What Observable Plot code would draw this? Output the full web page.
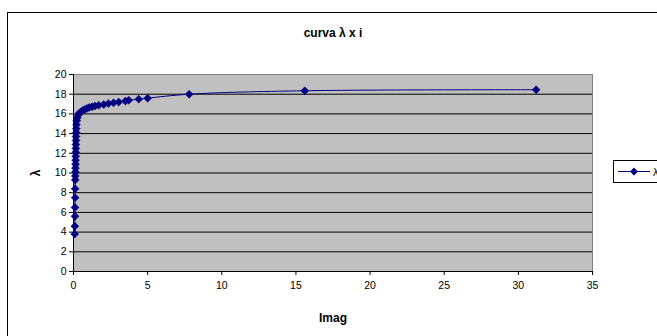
<!DOCTYPE html>
<html><head><meta charset="utf-8">
<script src="https://cdn.jsdelivr.net/npm/d3@7"></script>
<script src="https://cdn.jsdelivr.net/npm/@observablehq/plot@0.6"></script>
<style>
html,body{margin:0;padding:0;background:#fff;overflow:hidden;width:657px;height:336px;font-family:"Liberation Sans",Arial,sans-serif;}
#wrap{position:relative;width:657px;height:336px;}
#frame{position:absolute;left:7px;top:12px;width:700px;height:400px;border:1.5px solid #000;box-sizing:border-box;}
#chart{position:absolute;left:0;top:0;}
#legend{position:absolute;left:613px;top:160px;width:80px;height:23px;border:1px solid #000;background:#fff;box-sizing:border-box;}
</style></head>
<body><div id="wrap"><div id="frame"></div><div id="chart"></div><div id="legend"></div></div>
<script>
const title = "curva λ x i";
const xLabel = "Imag";
const yLabel = "λ";
const seriesName = "λ";
const imag = [0.08,0.09,0.10,0.10,0.11,0.11,0.12,0.12,0.13,0.13,0.14,0.14,0.15,0.15,0.16,0.16,0.17,0.17,0.18,0.19,0.20,0.22,0.26,0.32,0.40,0.50,0.62,0.75,0.90,1.05,1.25,1.45,1.70,2.04,2.35,2.70,3.05,3.50,3.73,4.40,5.00,7.80,15.60,31.20];
const lambda = [3.8,4.6,5.6,6.5,7.5,8.4,9.3,9.7,10.1,10.5,10.9,11.3,11.7,12.1,12.5,12.9,13.3,13.7,14.1,14.5,14.9,15.3,15.6,15.9,16.1,16.2,16.35,16.45,16.55,16.65,16.72,16.8,16.88,16.95,17.05,17.12,17.2,17.3,17.38,17.5,17.6,18.0,18.35,18.45];
const xTicks = [0,5,10,15,20,25,30,35];
const yTicks = [0,2,4,6,8,10,12,14,16,18,20];
const gridY = [2,4,6,8,10,12,14,16,18];

const data = imag.map((x,i)=>({x, y: lambda[i]}));
const navy = "#000080";

const chart = Plot.plot({
  width: 657, height: 336,
  marginLeft: 73, marginRight: 65, marginTop: 74, marginBottom: 65,
  style: {fontFamily: '"Liberation Sans", Arial, sans-serif', fontSize: "10.5px", background: "transparent", color: "#000"},
  x: {domain: [0,35]},
  y: {domain: [0,20]},
  marks: [
    Plot.frame({fill: "#C0C0C0", stroke: "#808080"}),
    Plot.ruleY(gridY, {stroke: "#000", strokeWidth: 1}),
    Plot.axisY({ticks: yTicks, tickSize: 4, tickPadding: 3, label: null, tickFormat: d => String(d)}),
    Plot.axisX({ticks: xTicks, tickSize: 4, tickPadding: 6, label: null, tickFormat: d => String(d)}),
    Plot.ruleX([0], {stroke: "#000"}),
    Plot.ruleY([0], {stroke: "#000"}),
    Plot.line(data, {x: "x", y: "y", stroke: navy, strokeWidth: 1, curve: "catmull-rom"}),
    Plot.dot(data, {x: "x", y: "y", symbol: "diamond2", r: 3.6, fill: navy, stroke: navy, strokeWidth: 0.5}),
    Plot.text([title], {x: 17.5, y: 20, dy: -41, fontWeight: "bold", fontSize: 12}),
    Plot.text([xLabel], {x: 17.5, y: 0, dy: 47, fontWeight: "bold", fontSize: 12}),
    Plot.text([yLabel], {x: 0, y: 10, dx: -37, rotate: -90, fontWeight: "bold", fontSize: 12})
  ]
});
document.getElementById("chart").appendChild(chart);

// legend
const lg = d3.select("#legend").append("svg").attr("width", 80).attr("height", 21).style("position","absolute").style("left","0").style("top","0");
lg.append("line").attr("x1", 4).attr("x2", 36).attr("y1", 10.5).attr("y2", 10.5).attr("stroke", navy).attr("stroke-width", 1);
lg.append("path").attr("d", d3.symbol(d3.symbolDiamond2, 40)()).attr("transform","translate(20,10.5)").attr("fill", navy);
lg.append("text").attr("x", 39).attr("y", 14.5).attr("font-size", 11).attr("font-family", '"Liberation Sans", Arial, sans-serif').text(seriesName);
</script></body></html>
